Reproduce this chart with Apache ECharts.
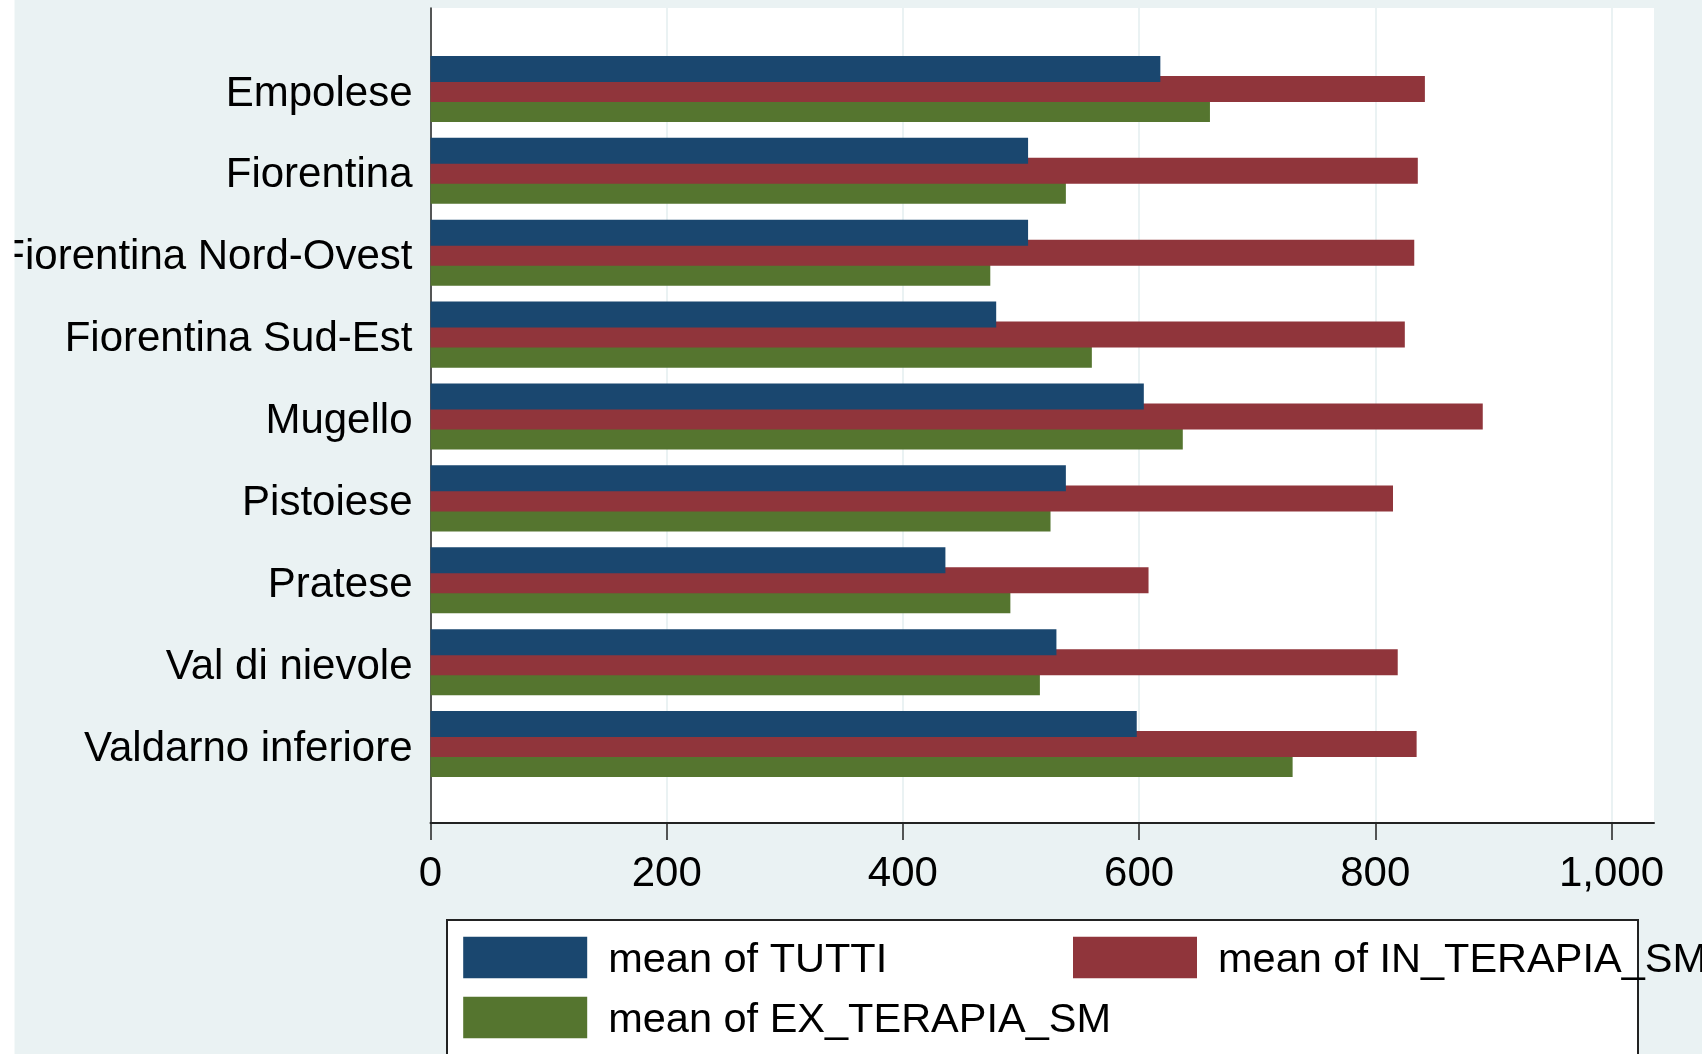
<!DOCTYPE html>
<html>
<head>
<meta charset="utf-8">
<script src="https://cdn.jsdelivr.net/npm/echarts@6/dist/echarts.min.js"></script>
<style>
html,body{margin:0;padding:0;background:#fff;}
#chart{width:1702px;height:1054px;}
</style>
</head>
<body>
<div id="chart"></div>
<script>
const categories = ['Empolese','Fiorentina','Fiorentina Nord-Ovest','Fiorentina Sud-Est','Mugello','Pistoiese','Pratese','Val di nievole','Valdarno inferiore'];
const seriesNames = ['mean of TUTTI','mean of IN_TERAPIA_SM','mean of EX_TERAPIA_SM'];
const tutti      = [618, 506, 506, 479, 604, 538, 436, 530, 598];
const inTerapia  = [842, 836, 833, 825, 891, 815, 608, 819, 835];
const exTerapia  = [660, 538, 474, 560, 637, 525, 491, 516, 730];
const xTicks = [0, 200, 400, 600, 800, 1000];
const colors = ['#1a476f', '#90353b', '#55752f'];

const FONT = "'Liberation Sans', Arial, sans-serif";
const chart = echarts.init(document.getElementById('chart'), null, {renderer: 'canvas'});

const barCommon = {
  type: 'bar', xAxisIndex: 1, yAxisIndex: 1,
  barWidth: 26, barGap: '-23%', barCategoryGap: 0,
  emphasis: {disabled: true}
};

const legendPos = [[463.2, 933.5], [1073, 933.5], [463.2, 993.5]];
const legends = seriesNames.map((name, i) => ({
  data: [name],
  left: legendPos[i][0], top: legendPos[i][1], orient: 'horizontal', padding: 0,
  itemWidth: 124, itemHeight: 41.5, icon: 'rect',
  selectedMode: false,
  formatter: '{t|{name}}',
  textStyle: {
    fontSize: 41.5, color: '#000', fontFamily: FONT,
    rich: {t: {fontSize: 41.5, color: '#000', fontFamily: FONT, lineHeight: 42, padding: [6, 0, 0, 16]}}
  }
}));

chart.setOption({
  backgroundColor: '#eaf2f3',
  animation: false,
  textStyle: {fontFamily: FONT},
  graphic: [
    {type: 'rect', left: 0, top: 0, shape: {width: 14.5, height: 1054}, style: {fill: '#ffffff'}, z: 100},
    {type: 'rect', left: 446, top: 919, shape: {width: 1191, height: 200}, style: {fill: '#ffffff', stroke: '#222222', lineWidth: 2}, z: 0}
  ],
  grid: [
    {left: 430.5, right: 48, top: 8, bottom: 231, show: true, backgroundColor: '#ffffff', borderWidth: 0, containLabel: false, outerBoundsMode: 'none'},
    {left: 430.5, right: 48, top: 48, bottom: 269, show: false, containLabel: false, outerBoundsMode: 'none'}
  ],
  xAxis: [
    {
      gridIndex: 0, type: 'value', min: 0, max: 1036, interval: 200,
      axisLine: {show: true, lineStyle: {color: '#222', width: 2}},
      axisTick: {show: true, length: 17, customValues: xTicks, lineStyle: {color: '#222', width: 1.5}},
      axisLabel: {
        customValues: xTicks, fontSize: 42, color: '#000', margin: 30, fontFamily: FONT,
        formatter: v => v.toLocaleString('en-US')
      },
      splitLine: {show: true, lineStyle: {color: '#eaf2f3', width: 2}}
    },
    {
      gridIndex: 1, type: 'value', min: 0, max: 1036, show: false
    }
  ],
  yAxis: [
    {
      gridIndex: 0, type: 'value', min: 0, max: 1,
      axisLine: {show: true, lineStyle: {color: '#222', width: 1.5}},
      axisTick: {show: false}, axisLabel: {show: false}, splitLine: {show: false}
    },
    {
      gridIndex: 1, type: 'category', data: categories, inverse: true,
      axisLine: {show: false}, axisTick: {show: false},
      axisLabel: {fontSize: 42, color: '#000', margin: 18, fontFamily: FONT, verticalAlign: 'top', lineHeight: 10}
    }
  ],
  legend: legends,
  series: [
    Object.assign({}, barCommon, {name: seriesNames[0], data: tutti, itemStyle: {color: colors[0]}, z: 4}),
    Object.assign({}, barCommon, {name: seriesNames[1], data: inTerapia, itemStyle: {color: colors[1]}, z: 3}),
    Object.assign({}, barCommon, {name: seriesNames[2], data: exTerapia, itemStyle: {color: colors[2]}, z: 2})
  ]
});
</script>
</body>
</html>
